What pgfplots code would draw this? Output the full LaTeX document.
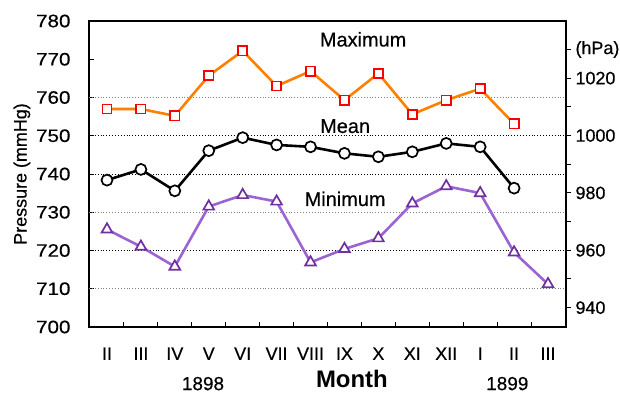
\documentclass[border=0pt]{standalone}
\usepackage{pgfplots}
\pgfplotsset{compat=1.18}
\usepackage{fontspec}
\setmainfont{Liberation Sans}
\newfontfamily\lab{Liberation Sans}[FakeBold=0.5]
\newfontfamily\tickf{Liberation Sans}[FakeBold=0.5, FakeStretch=1.15]
\definecolor{maxline}{RGB}{255,128,0}
\definecolor{maxmark}{RGB}{255,0,0}
\definecolor{minline}{RGB}{155,100,210}
\definecolor{minmark}{RGB}{112,48,160}
\begin{document}
\begin{tikzpicture}
\useasboundingbox (0,0) rectangle (620bp,394bp);
\begin{axis}[
  at={(89bp,67bp)}, anchor=south west,
  scale only axis, width=477bp, height=306bp,
  xmin=-0.53, xmax=13.53, ymin=700, ymax=780,
  clip=false,
  axis line style={line width=1.6bp},
  xtick={0,...,13},
  xticklabels={II,III,IV,V,VI,VII,VIII,IX,X,XI,XII,I,II,III},
  major x tick style={draw=none},
  minor xtick={0.5,1.5,...,12.5},
  xtick pos=bottom, ytick pos=left,
  tick align=inside,
  major tick length=5bp, minor tick length=5bp,
  tick style={line width=1bp, black},
  ytick={700,710,...,780},
  /pgf/number format/assume math mode=true,
  /pgf/number format/1000 sep={},
  xticklabel style={font=\lab\fontsize{18}{20}\selectfont, yshift=-17bp},
  yticklabel style={font=\tickf\fontsize{18}{20}\selectfont, xshift=-15bp},
  ylabel={Pressure (mmHg)},
  ylabel style={font=\lab\fontsize{18}{20}\selectfont, yshift=-1bp},
]
\foreach \g in {710,730,760}{
  \edef\tmp{\noexpand\draw[gray, dotted, line width=0.9bp] (axis cs:-0.53,\g) -- (axis cs:13.53,\g);}\tmp
}
\foreach \g in {720,740,750}{
  \edef\tmp{\noexpand\draw[black, dotted, line width=0.9bp] (axis cs:-0.53,\g) -- (axis cs:13.53,\g);}\tmp
}
\addplot[maxline, line width=2.6bp, mark=square*, mark size=4.6bp,
  mark options={draw=maxmark, fill=white, line width=1.7bp, solid}]
coordinates {(0,757.0)(1,757.0)(2,755.2)(3,765.7)(4,772.2)(5,763.0)(6,766.9)(7,759.3)(8,766.3)(9,755.6)(10,759.3)(11,762.3)(12,753.1)};
\addplot[black, line width=2.6bp, mark=*, mark size=5.5bp,
  mark options={draw=black, fill=white, line width=1.7bp, solid}]
coordinates {(0,738.4)(1,741.2)(2,735.6)(3,746.1)(4,749.5)(5,747.6)(6,747.1)(7,745.4)(8,744.5)(9,745.8)(10,748.0)(11,747.1)(12,736.3)};
\addplot[minline, line width=2.6bp, mark=triangle*, mark size=6.2bp,
  mark options={draw=minmark, fill=white, line width=1.7bp, solid}]
coordinates {(0,725.5)(1,721.0)(2,715.8)(3,731.5)(4,734.5)(5,732.8)(6,716.9)(7,720.4)(8,723.2)(9,732.3)(10,736.8)(11,735.0)(12,719.5)(13,711.2)};
\node[inner sep=0pt, font=\lab\fontsize{20}{22}\selectfont] at (axis cs:7.55,775.2) {Maximum};
\node[inner sep=0pt, font=\lab\fontsize{20}{22}\selectfont] at (axis cs:7.02,752.5) {Mean};
\node[inner sep=0pt, font=\lab\fontsize{20}{22}\selectfont] at (axis cs:7.02,733.5) {Minimum};
\node[inner sep=0pt, font=\lab\fontsize{19}{21}\selectfont] at (axis cs:2.83,685.2) {1898};
\node[inner sep=0pt, font=\fontsize{24}{26}\selectfont\bfseries] at (axis cs:7.22,686.3) {Month};
\node[inner sep=0pt, font=\lab\fontsize{19}{21}\selectfont] at (axis cs:11.8,685.2) {1899};
\end{axis}
\begin{axis}[
  at={(89bp,67bp)}, anchor=south west,
  scale only axis, width=477bp, height=306bp,
  xmin=-0.53, xmax=13.53, ymin=933.27, ymax=1039.91,
  axis x line=none, axis y line*=right,
  axis line style={line width=1.6bp, -},
  tick align=outside,
  major tick length=5bp, minor tick length=5bp,
  tick style={line width=1bp, black},
  ytick={940,960,980,1000,1020,1030},
  yticklabels={940,960,980,1000,1020,(hPa)},
  minor ytick={950,970,990,1010},
  /pgf/number format/assume math mode=true,
  /pgf/number format/1000 sep={},
  yticklabel style={font=\lab\fontsize{18}{20}\selectfont, xshift=1bp},
]
\end{axis}
\end{tikzpicture}
\end{document}
